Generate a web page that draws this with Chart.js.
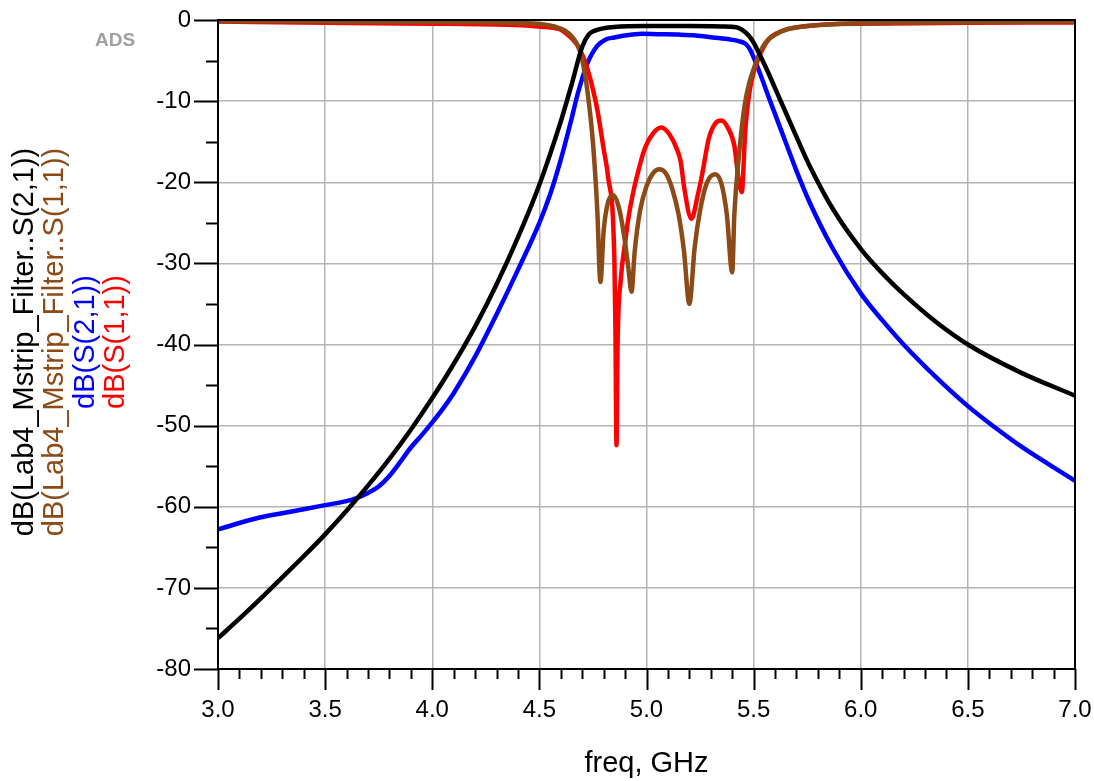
<!DOCTYPE html>
<html>
<head>
<meta charset="utf-8">
<script src="https://cdn.jsdelivr.net/npm/chart.js@4.4.1/dist/chart.umd.min.js"></script>
<style>
  body { margin: 0; background: #fff; }
  canvas { display: block; }
</style>
</head>
<body>
<canvas id="sparams" width="1094" height="781"></canvas>
<script>
// dB(Lab4_Mstrip_Filter..S(2,1)) - black
var freqLab4S21 = [3.0, 3.1, 3.2, 3.3, 3.4, 3.5, 3.6, 3.7, 3.8, 3.9, 4.0, 4.1, 4.2, 4.3, 4.4, 4.5, 4.6, 4.65, 4.7, 4.73, 4.76, 4.85, 5.0, 5.2, 5.35, 5.42, 5.445, 5.48, 5.5, 5.54, 5.57, 5.6, 5.65, 5.7, 5.76, 5.87, 6.0, 6.1, 6.2, 6.35, 6.5, 6.75, 7.0];
var dbLab4S21 = [-76.2, -73.8, -71.3, -68.7, -66.1, -63.4, -60.5, -57.4, -54.1, -50.5, -46.6, -42.4, -37.8, -32.6, -26.8, -20.3, -12.5, -8.0, -3.3, -1.8, -1.3, -0.85, -0.75, -0.75, -0.8, -0.9, -1.2, -2.0, -2.8, -4.9, -6.6, -8.4, -11.4, -14.4, -17.9, -23.3, -28.2, -31.2, -33.8, -37.2, -40.0, -43.5, -46.3];

// dB(Lab4_Mstrip_Filter..S(1,1)) - brown
var freqLab4S11 = [3.0, 3.5, 4.0, 4.3, 4.45, 4.52, 4.57, 4.62, 4.65, 4.68, 4.70, 4.725, 4.75, 4.77, 4.785, 4.80, 4.82, 4.845, 4.87, 4.895, 4.915, 4.93, 4.945, 4.97, 5.0, 5.03, 5.06, 5.09, 5.12, 5.15, 5.175, 5.20, 5.225, 5.25, 5.28, 5.32, 5.35, 5.375, 5.40, 5.41, 5.43, 5.46, 5.51, 5.555, 5.6, 5.65, 5.75, 5.84, 6.0, 6.5, 7.0];
var dbLab4S11 = [-0.15, -0.2, -0.25, -0.3, -0.4, -0.55, -0.8, -1.3, -2.0, -3.2, -4.9, -8.9, -15.1, -23.3, -32.3, -26.0, -22.5, -21.6, -23.0, -26.5, -30.5, -33.5, -28.5, -23.5, -20.5, -18.9, -18.4, -18.9, -20.8, -24.0, -28.5, -35.0, -28.0, -23.5, -20.2, -19.0, -20.2, -24.0, -31.1, -24.0, -17.1, -10.2, -5.3, -2.8, -1.8, -1.2, -0.75, -0.55, -0.4, -0.25, -0.2];

// dB(S(2,1)) - blue
var freqS21 = [3.0, 3.1, 3.2, 3.3, 3.4, 3.5, 3.6, 3.64, 3.7, 3.75, 3.8, 3.85, 3.9, 3.95, 4.0, 4.05, 4.1, 4.2, 4.3, 4.4, 4.5, 4.55, 4.6, 4.65, 4.68, 4.725, 4.77, 4.81, 4.85, 4.9, 4.98, 5.05, 5.15, 5.23, 5.31, 5.39, 5.43, 5.46, 5.48, 5.5, 5.53, 5.57, 5.65, 5.7, 5.76, 5.87, 6.0, 6.1, 6.2, 6.35, 6.5, 6.63, 6.75, 7.0];
var dbS21 = [-62.8, -62.0, -61.3, -60.8, -60.3, -59.8, -59.3, -59.0, -58.3, -57.5, -56.2, -54.5, -52.7, -51.2, -49.6, -47.9, -46.0, -41.5, -36.3, -30.8, -25.0, -21.5, -17.2, -12.2, -9.0, -5.3, -3.2, -2.4, -2.15, -1.9, -1.7, -1.75, -1.8, -1.9, -2.15, -2.4, -2.6, -2.9, -3.5, -4.6, -6.6, -9.5, -15.1, -18.6, -22.4, -28.2, -33.7, -37.0, -40.0, -44.0, -47.6, -50.3, -52.6, -56.8];

// dB(S(1,1)) - red
var freqS11 = [3.0, 3.5, 4.0, 4.3, 4.45, 4.52, 4.57, 4.60, 4.64, 4.68, 4.725, 4.77, 4.80, 4.82, 4.85, 4.855, 4.86, 4.865, 4.88, 4.9, 4.915, 4.94, 4.96, 4.99, 5.03, 5.07, 5.11, 5.14, 5.16, 5.175, 5.21, 5.24, 5.26, 5.29, 5.32, 5.35, 5.38, 5.41, 5.43, 5.445, 5.46, 5.47, 5.49, 5.52, 5.57, 5.62, 5.68, 5.84, 6.0, 6.5, 7.0];
var dbS11 = [-0.2, -0.35, -0.45, -0.55, -0.7, -0.85, -1.0, -1.2, -2.0, -3.2, -6.1, -11.0, -15.9, -19.2, -29.4, -38.0, -52.4, -40.0, -32.0, -27.5, -24.5, -21.0, -18.8, -16.0, -14.0, -13.25, -14.2, -15.8, -17.5, -20.5, -24.5, -21.5, -19.0, -14.7, -12.8, -12.4, -13.3, -15.5, -19.6, -21.2, -14.0, -11.0, -7.5, -4.9, -2.4, -1.5, -1.0, -0.55, -0.45, -0.35, -0.3];

var titleLines = [
  { text: "dB(Lab4_Mstrip_Filter..S(2,1))", color: "#000000" },
  { text: "dB(Lab4_Mstrip_Filter..S(1,1))", color: "#8B4A16" },
  { text: "dB(S(2,1))", color: "#0000FF" },
  { text: "dB(S(1,1))", color: "#FF0000" }
];

function toPoints(xs, ys) {
  var pts = [];
  for (var i = 0; i < xs.length; i++) {
    pts.push({ x: xs[i], y: ys[i] });
  }
  return pts;
}

var fontFamily = "Arial, 'Liberation Sans', sans-serif";

// ticks, frame, y title and ADS label
var decorPlugin = {
  id: 'decor',
  afterDatasetsDraw: function(chart) {
    var ctx = chart.ctx;
    var area = chart.chartArea;
    var xs = chart.scales.x;
    var ys = chart.scales.y;
    ctx.save();

    // frame
    ctx.strokeStyle = '#000';
    ctx.lineWidth = 2;
    ctx.strokeRect(area.left, area.top, area.right - area.left, area.bottom - area.top);

    // y ticks (major every 10, minor every 5)
    for (var v = -80; v <= 0; v += 5) {
      var py = Math.round(ys.getPixelForValue(v)) + 0.5;
      var len = (v % 10 === 0) ? 24 : 12;
      ctx.beginPath();
      ctx.moveTo(area.left - len, py);
      ctx.lineTo(area.left, py);
      ctx.stroke();
    }
    // x ticks (major every 0.5, minor every 0.1)
    for (var i = 0; i <= 40; i++) {
      var f = 3 + i * 0.1;
      var px = Math.round(xs.getPixelForValue(f)) + 0.5;
      var l = (i % 5 === 0) ? 21 : 10;
      ctx.beginPath();
      ctx.moveTo(px, area.bottom);
      ctx.lineTo(px, area.bottom + l);
      ctx.stroke();
    }

    // x title
    ctx.fillStyle = '#000';
    ctx.font = '29px ' + fontFamily;
    ctx.textAlign = 'center';
    ctx.textBaseline = 'middle';
    ctx.fillText('freq, GHz', (area.left + area.right) / 2, 764);

    // y title, four coloured lines
    var cy = 342;
    var cxs = [25, 55, 86, 116];
    for (var k = 0; k < titleLines.length; k++) {
      ctx.save();
      ctx.translate(cxs[k], cy);
      ctx.rotate(-Math.PI / 2);
      ctx.fillStyle = titleLines[k].color;
      ctx.fillText(titleLines[k].text, 0, 0);
      ctx.restore();
    }

    // ADS mark
    ctx.font = 'bold 19px ' + fontFamily;
    ctx.fillStyle = '#a0a0a0';
    ctx.textAlign = 'left';
    ctx.fillText('ADS', 95, 41);
    ctx.restore();
  }
};

var gridColorY = function(c) {
  if (!c.tick) return 'transparent';
  return (c.tick.value === 0 || c.tick.value === -80) ? 'transparent' : '#b4b4b4';
};
var gridColorX = function(c) {
  if (!c.tick) return 'transparent';
  return (Math.abs(c.tick.value - 3) < 1e-6 || Math.abs(c.tick.value - 7) < 1e-6) ? 'transparent' : '#b4b4b4';
};

var ctx = document.getElementById('sparams').getContext('2d');
var myChart = new Chart(ctx, {
  type: 'line',
  data: {
    datasets: [{
      label: 'dB(Lab4_Mstrip_Filter..S(2,1))',
      data: toPoints(freqLab4S21, dbLab4S21),
      borderColor: '#000000',
      borderWidth: 4.5,
      pointRadius: 0,
      cubicInterpolationMode: 'monotone'
    }, {
      label: 'dB(Lab4_Mstrip_Filter..S(1,1))',
      data: toPoints(freqLab4S11, dbLab4S11),
      borderColor: '#8B4A16',
      borderWidth: 4.5,
      pointRadius: 0,
      cubicInterpolationMode: 'monotone'
    }, {
      label: 'dB(S(1,1))',
      data: toPoints(freqS11, dbS11),
      borderColor: '#FF0000',
      borderWidth: 4.5,
      pointRadius: 0,
      cubicInterpolationMode: 'monotone'
    }, {
      label: 'dB(S(2,1))',
      data: toPoints(freqS21, dbS21),
      borderColor: '#0000FF',
      borderWidth: 4.5,
      pointRadius: 0,
      cubicInterpolationMode: 'monotone'
    }]
  },
  options: {
    responsive: false,
    animation: false,
    layout: { padding: { left: 0, top: 20, right: 19, bottom: 0 } },
    plugins: {
      legend: { display: false },
      tooltip: { enabled: false }
    },
    scales: {
      x: {
        type: 'linear',
        min: 3,
        max: 7,
        afterFit: function(scale) {
          scale.height = 112;
          scale.paddingLeft = 0;
          scale.paddingRight = 0;
        },
        border: { display: false },
        grid: { color: gridColorX, lineWidth: 1.5, drawTicks: false },
        ticks: {
          stepSize: 0.5,
          padding: 27,
          color: '#000',
          font: { size: 24, family: fontFamily },
          maxRotation: 0,
          callback: function(v) { return v.toFixed(1); }
        }
      },
      y: {
        min: -80,
        max: 0,
        afterFit: function(scale) {
          scale.width = 218;
          scale.paddingTop = 0;
          scale.paddingBottom = 0;
        },
        border: { display: false },
        grid: { color: gridColorY, lineWidth: 1.5, drawTicks: false },
        ticks: {
          stepSize: 10,
          padding: 27,
          color: '#000',
          font: { size: 24, family: fontFamily }
        }
      }
    }
  },
  plugins: [decorPlugin]
});
</script>
</body>
</html>
